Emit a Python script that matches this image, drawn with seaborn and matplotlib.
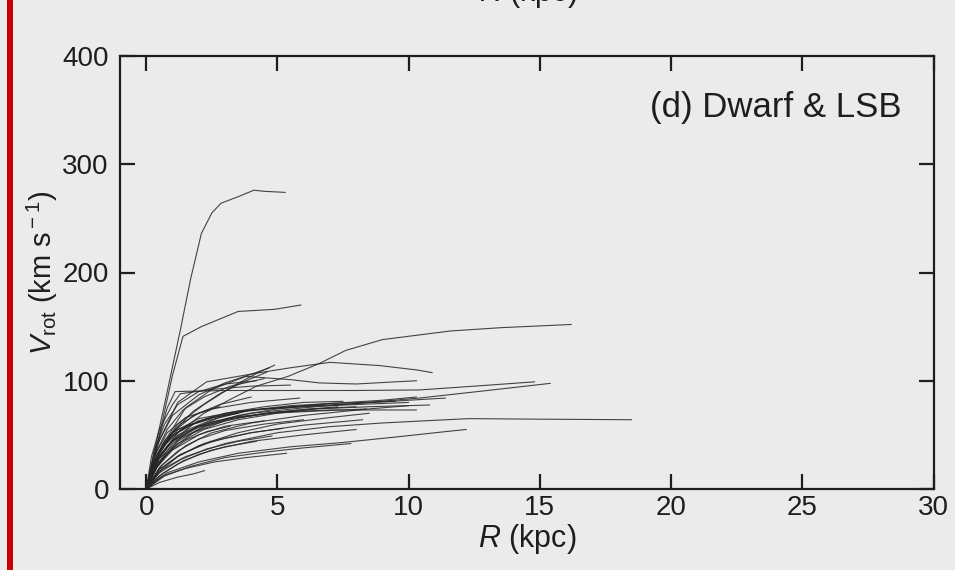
import matplotlib
matplotlib.use("Agg")
import matplotlib.pyplot as plt
import seaborn as sns
import pandas as pd
from matplotlib.patches import Rectangle

# ---------------- data (R in kpc, V in km/s) ----------------
g01_r = [0, 0.4, 0.8, 1.3, 1.7, 2.1, 2.5, 2.85, 3.5, 4.1, 4.5, 5.3]
g01_v = [0, 45, 90, 147, 195, 236, 255, 264, 270, 276, 275, 274]
g02_r = [0, 0.5, 1.0, 1.4, 2.1, 3.5, 4.9, 5.9]
g02_v = [0, 50, 105, 141, 150, 164, 166, 170]
g03_r = [0, 0.5, 1.2, 2.2, 3.3, 4.2, 5.4, 6.6, 7.6, 9.0, 11.6, 13.5, 16.2]
g03_v = [0, 30, 52, 70, 84, 95, 104, 116, 128, 138, 146, 149, 152]
g04_r = [0, 0.5, 1.2, 2.3, 4.2, 5.5, 7.0, 8.9, 10.3, 10.9]
g04_v = [0, 45, 80, 99, 107, 112, 117, 114, 110, 107.5]
g05_r = [0, 0.6, 1.5, 2.5, 3.8, 5.5, 6.6, 8.0, 9.5, 10.3]
g05_v = [0, 40, 75, 92, 104, 101, 98, 97, 99, 100]
g06_r = [0, 0.4, 0.8, 1.1, 3.0, 6.0, 8.0, 10.4, 12.5, 14.8]
g06_v = [0, 40, 75, 90, 91, 91, 91, 91.5, 95, 99]
g07_r = [0, 0.5, 1.2, 2.5, 4.0, 6.0, 8.0, 10.4, 13.0, 15.4]
g07_v = [0, 30, 50, 62, 70, 75, 79, 84, 91, 97.6]
g08_r = [0, 0.5, 1.2, 2.2, 3.3, 4.3, 4.9]
g08_v = [0, 35, 60, 78, 95, 108, 114.5]
g09_r = [0, 0.4, 1.0, 2.0, 3.0, 4.0, 4.7]
g09_v = [0, 40, 68, 87, 98, 106, 112]
g10_r = [0, 0.6, 1.5, 3.0, 5.0, 7.0, 9.0, 11.2, 12.3, 15.0, 18.5]
g10_v = [0, 18, 30, 42, 52, 57.6, 61, 63.7, 65, 64.5, 64]
g11_r = [0, 0.8, 2.0, 3.5, 5.5, 7.5, 9.5, 11.4, 12.2]
g11_v = [0, 15, 25, 33, 39, 43, 48, 53, 55]
g12_r = [0, 0.7, 1.7, 3.0, 4.5, 6.0, 7.8]
g12_v = [0, 12, 21, 29, 34, 38, 42]
g13_r = [0, 0.6, 1.5, 2.6, 3.8, 5.35]
g13_v = [0, 12, 19, 25, 29, 33]
g14_r = [0, 0.5, 1.2, 1.8, 2.23]
g14_v = [0, 6, 11, 14, 17]
g15_r = [0, 0.5, 1.3, 2.5, 4.0, 6.0, 8.25]
g15_v = [0, 18, 32, 44, 52, 59, 64]
g16_r = [0, 0.4, 1.0, 2.0, 3.5, 5.0, 7.0, 9.0, 10.3]
g16_v = [0, 30, 50, 63, 71, 75, 79, 82, 85]
g17_r = [0, 0.5, 1.2, 2.2, 3.5, 5.0, 6.5, 8.5, 10.8]
g17_v = [0, 25, 42, 55, 64, 70, 74, 76, 77.6]
g18_r = [0, 0.4, 1.0, 2.0, 3.2, 5.0, 7.0, 9.0, 10.3]
g18_v = [0, 28, 45, 58, 66, 71, 73, 73, 73]
g19_r = [0, 0.4, 1.0, 2.0, 3.5, 5.5, 8.0, 10.0, 11.4]
g19_v = [0, 32, 52, 65, 72, 76, 79, 82, 84]
g20_r = [0, 0.5, 1.2, 2.5, 4.0, 6.0, 8.0, 10.0]
g20_v = [0, 35, 55, 67, 73, 76, 78, 80]
g21_r = [0, 0.6, 1.5, 2.5, 4.0, 6.0, 8.5, 10.0]
g21_v = [0, 22, 40, 52, 61, 68, 74, 77]
g22_r = [0, 0.5, 1.3, 2.3, 3.5, 5.0, 7.3]
g22_v = [0, 28, 47, 58, 66, 71, 76]
g23_r = [0, 0.3, 0.8, 1.5, 2.5, 4.0, 5.85]
g23_v = [0, 30, 52, 66, 74, 80, 84]
g24_r = [0, 0.4, 1.0, 2.0, 3.2, 4.8, 6.5, 8.4]
g24_v = [0, 26, 44, 57, 65, 70, 72, 74]
g25_r = [0, 0.3, 0.8, 1.5, 2.5, 3.5]
g25_v = [0, 25, 45, 58, 66, 70]
g26_r = [0, 0.4, 1.0, 2.0, 3.0, 4.5]
g26_v = [0, 20, 36, 50, 58, 63]
g27_r = [0, 0.5, 1.2, 2.0, 3.0, 4.0, 5.2]
g27_v = [0, 18, 30, 40, 47, 52, 56]
g28_r = [0, 0.5, 1.3, 2.3, 3.5, 4.8]
g28_v = [0, 15, 27, 37, 44, 49]
g29_r = [0, 0.3, 0.8, 1.6, 2.6, 3.8]
g29_v = [0, 22, 40, 55, 65, 72]
g30_r = [0, 0.4, 1.0, 1.8, 2.8, 4.0]
g30_v = [0, 30, 52, 68, 78, 85]
g31_r = [0, 0.3, 0.8, 1.4, 2.2, 3.2, 4.5]
g31_v = [0, 30, 55, 73, 85, 95, 102]
g32_r = [0, 0.3, 0.7, 1.2, 2.0, 3.0, 4.2]
g32_v = [0, 35, 60, 78, 90, 97, 100]
g33_r = [0, 0.4, 1.0, 1.8, 3.0, 4.5, 6.2, 8.0]
g33_v = [0, 20, 38, 52, 63, 70, 74, 76]
g34_r = [0, 0.5, 1.2, 2.2, 3.5, 5.0, 7.0, 8.5]
g34_v = [0, 16, 30, 42, 52, 60, 66, 70]
g35_r = [0, 0.6, 1.4, 2.5, 4.0, 6.0, 8.0]
g35_v = [0, 14, 26, 36, 44, 50, 55]
g36_r = [0, 0.3, 0.8, 1.5, 2.3, 3.2]
g36_v = [0, 18, 33, 45, 53, 58]
g37_r = [0, 0.5, 1.2, 2.0, 3.0, 4.2]
g37_v = [0, 12, 23, 32, 39, 44]
g38_r = [0, 0.3, 0.7, 1.3, 2.0, 2.8]
g38_v = [0, 26, 45, 60, 70, 76]
g39_r = [0, 0.2, 0.6, 1.2, 1.8, 2.5]
g39_v = [0, 20, 38, 52, 60, 65]
g40_r = [0, 0.5, 1.2, 2.2, 3.5, 5.0, 6.8]
g40_v = [0, 25, 44, 58, 68, 74, 78]
g41_r = [0, 0.4, 1.0, 1.8, 3.0, 4.5, 6.0, 7.5]
g41_v = [0, 25, 45, 60, 70, 76, 80, 81]
g42_r = [0, 0.2, 0.5, 1.0, 1.3, 2.5, 4.0, 5.5]
g42_v = [0, 30, 55, 78, 88, 92, 95, 96]
g43_r = [0, 0.4, 1.0, 1.8, 2.8, 4.0, 5.5, 7.0, 9.5]
g43_v = [0, 22, 42, 56, 66, 73, 77, 79, 81]
g44_r = [0, 0.5, 1.2, 2.0, 3.0, 4.5, 6.0]
g44_v = [0, 20, 35, 46, 54, 60, 64]
g45_r = [0, 0.4, 1.0, 1.8, 2.8, 3.8, 4.6]
g45_v = [0, 28, 52, 72, 88, 100, 108]

galaxies = [
    (g01_r, g01_v), (g02_r, g02_v), (g03_r, g03_v), (g04_r, g04_v),
    (g05_r, g05_v), (g06_r, g06_v), (g07_r, g07_v), (g08_r, g08_v),
    (g09_r, g09_v), (g10_r, g10_v), (g11_r, g11_v), (g12_r, g12_v),
    (g13_r, g13_v), (g14_r, g14_v), (g15_r, g15_v), (g16_r, g16_v),
    (g17_r, g17_v), (g18_r, g18_v), (g19_r, g19_v), (g20_r, g20_v),
    (g21_r, g21_v), (g22_r, g22_v), (g23_r, g23_v), (g24_r, g24_v),
    (g25_r, g25_v), (g26_r, g26_v), (g27_r, g27_v), (g28_r, g28_v),
    (g29_r, g29_v), (g30_r, g30_v), (g31_r, g31_v), (g32_r, g32_v),
    (g33_r, g33_v), (g34_r, g34_v), (g35_r, g35_v), (g36_r, g36_v),
    (g37_r, g37_v), (g38_r, g38_v), (g39_r, g39_v), (g40_r, g40_v),
    (g41_r, g41_v), (g42_r, g42_v), (g43_r, g43_v), (g44_r, g44_v),
    (g45_r, g45_v),
]

x_ticks = [0, 5, 10, 15, 20, 25, 30]
y_ticks = [0, 100, 200, 300, 400]
panel_label = "(d) Dwarf & LSB"

rows = []
for i, (rr, vv) in enumerate(galaxies):
    for k, (r, v) in enumerate(zip(rr, vv)):
        rows.append({"galaxy": i, "order": k, "R": r, "V": v})
df = pd.DataFrame(rows)

# ---------------- style ----------------
BG = "#ebebeb"
INK = "#1e1e1e"
sns.set_style("ticks")
plt.rcParams["font.family"] = ["Liberation Sans", "DejaVu Sans"]
plt.rcParams["mathtext.fontset"] = "custom"
plt.rcParams["mathtext.rm"] = "Liberation Sans"
plt.rcParams["mathtext.it"] = "Liberation Sans:italic"
plt.rcParams["mathtext.bf"] = "Liberation Sans:bold"

fig = plt.figure(figsize=(9.55, 5.70), dpi=100, facecolor=BG)
ax = fig.add_axes([120 / 955, 81 / 570, 813.5 / 955, 433 / 570])
ax.set_facecolor(BG)

sns.lineplot(data=df, x="R", y="V", units="galaxy", estimator=None, sort=False,
             color="#262626", linewidth=0.8, alpha=0.85, ax=ax, legend=False)

ax.set_xlim(-1, 30)
ax.set_ylim(0, 400)
ax.set_xticks(x_ticks)
ax.set_yticks(y_ticks)
ax.set_xticklabels([str(t) for t in x_ticks])
ax.set_yticklabels([str(t) for t in y_ticks])
ax.tick_params(axis="both", which="major", direction="in", length=11, width=1.6,
               color=INK, labelsize=20, labelcolor=INK,
               top=True, right=True)
ax.tick_params(axis="x", pad=4)
ax.tick_params(axis="y", pad=8)
for s in ax.spines.values():
    s.set_visible(True)
    s.set_linewidth(1.6)
    s.set_color(INK)

ax.set_xlabel("$\\it{R}$ (kpc)", fontsize=22, color=INK, labelpad=1)
ax.set_ylabel("$\\it{V}_{\\rm rot}$ (km s$^{\\rm -1}$)", fontsize=21, color=INK, labelpad=2)

ax.text(0.961, 0.88, panel_label, transform=ax.transAxes, ha="right", va="center",
        fontsize=25, color=INK)

# red bar at the left edge and clipped heading from the panel above
fig.patches.append(Rectangle((7 / 955, 0), 6 / 955, 1, transform=fig.transFigure,
                             facecolor="#cc0000", edgecolor="none", zorder=5))
fig.text(528 / 955, 569 / 570, "$\\it{R}$ (kpc)", ha="center", va="baseline",
         fontsize=22, color=INK)

fig.savefig("out.png", dpi=100, facecolor=BG)
